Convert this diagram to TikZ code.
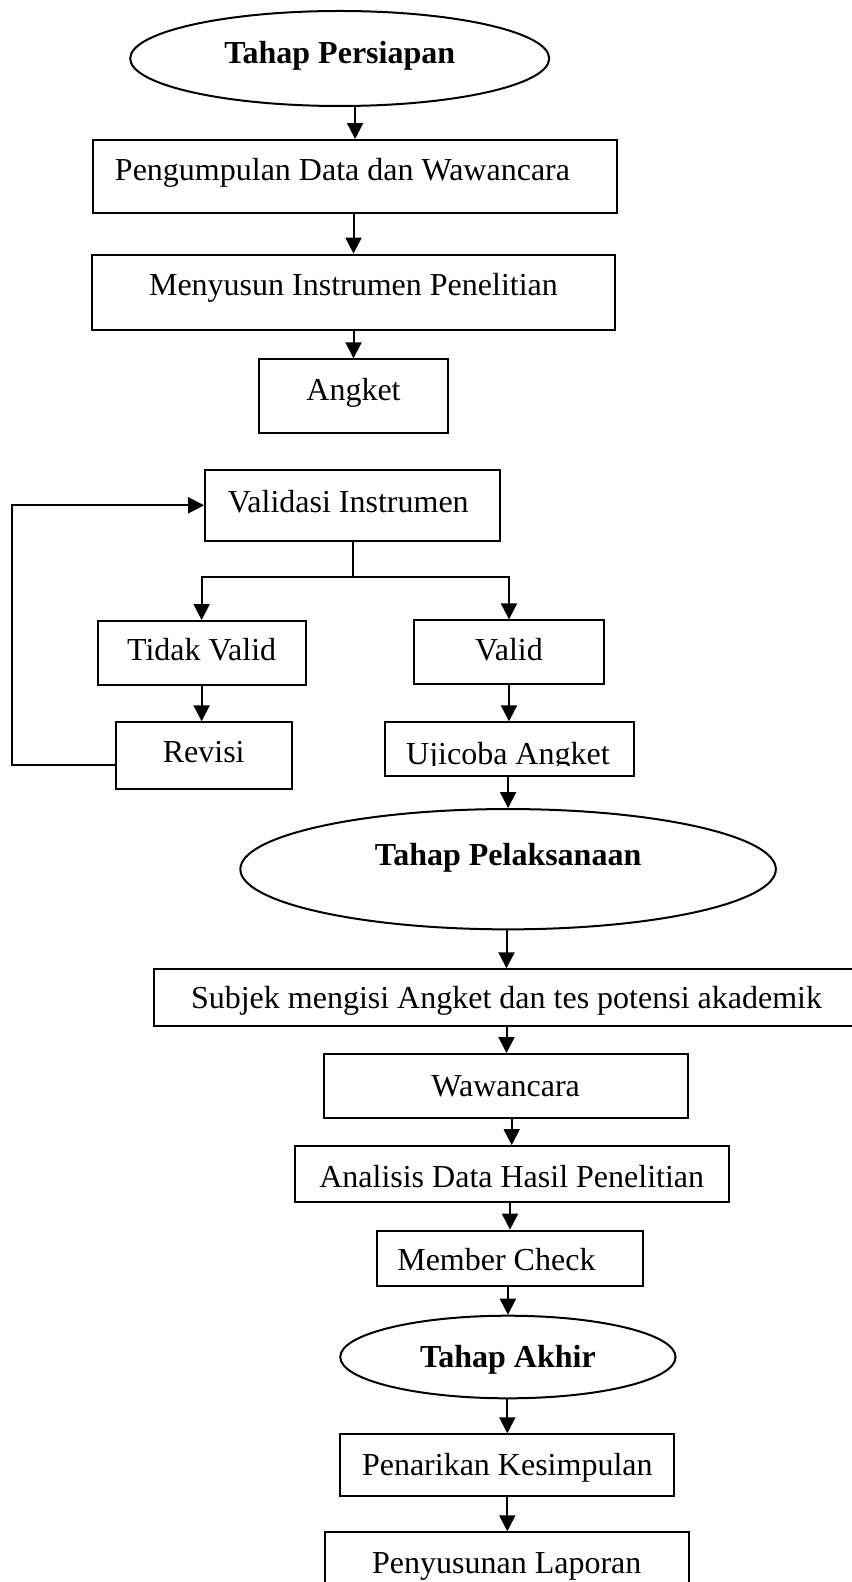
\documentclass[tikz,border=0pt]{standalone}
\usepackage{fontspec}
\setmainfont{Liberation Serif}
\usetikzlibrary{arrows.meta,shapes.geometric,calc}

\newcommand{\Txt}[3]{\makebox[0pt]{\kern#1\raisebox{#2}{#3}\kern-#1}}

\tikzset{
  sz/.style 2 args={minimum width=#1*0.5pt,minimum height=#2*0.5pt},
  box/.style={draw,line width=1pt,inner sep=0pt,text height=10.6pt,text depth=0pt},
  oval/.style={box,ellipse,font=\fontsize{16}{19}\selectfont\bfseries},
  flow/.style={line width=1pt,-{Triangle[length=8pt,width=8pt]}}
}

\begin{document}
\begin{tikzpicture}[x=0.5pt,y=-0.5pt,font=\fontsize{16}{19}\selectfont]
\useasboundingbox (0,0) rectangle (851,1582);

\node[oval,sz={419}{95}] (e1) at (339.7,58.5) {\Txt{0pt}{3pt}{Tahap Persiapan}};
\node[box,sz={523.6}{73.3}] (pd) at (355.1,176.7) {\Txt{-6.3pt}{3.3pt}{Pengumpulan Data dan Wawancara}};
\node[box,sz={522.6}{75.7}] (mi) at (353.5,292.5) {\Txt{0pt}{3.7pt}{Menyusun Instrumen Penelitian}};
\node[box,sz={188.2}{74}] (ak) at (353.5,396.3) {\Txt{0pt}{3.1pt}{Angket}};
\node[box,sz={295.2}{70.7}] (vi) at (352.7,505.3) {\Txt{-2.2pt}{1.8pt}{Validasi Instrumen}};
\node[box,sz={207.8}{64}] (tv) at (201.6,653) {\Txt{0pt}{1.5pt}{Tidak Valid}};
\node[box,sz={189.9}{63.7}] (va) at (509,652.2) {\Txt{0pt}{1pt}{Valid}};
\node[box,sz={176.3}{66.4}] (rv) at (203.7,755.5) {\Txt{0pt}{1.9pt}{Revisi}};
\node[box,sz={248.5}{53.4},path picture={
    \clip ([yshift=5.3pt]path picture bounding box.south west) rectangle (path picture bounding box.north east);
    \node[box,draw=none] at (path picture bounding box.center) {\Txt{-0.8pt}{-2.2pt}{Ujicoba Angket}};}] (uj) at (509.5,749) {};
\node[oval,sz={535.5}{120.3}] (e2) at (508.1,869.2) {\Txt{0pt}{7.1pt}{Tahap Pelaksanaan}};
\node[box,sz={705.8}{56.4}] (sb) at (506.5,997.5) {Subjek mengisi Angket dan tes potensi akademik};
\node[box,sz={363.6}{64.3}] (ww) at (505.7,1086.2) {Wawancara};
\node[box,sz={434.1}{56.3}] (an) at (511.7,1174.2) {\Txt{0pt}{-1.2pt}{Analisis Data Hasil Penelitian}};
\node[box,sz={265.9}{55.3}] (mc) at (510,1258.3) {\Txt{-6.8pt}{-0.8pt}{Member Check}};
\node[oval,sz={335.3}{82.6}] (e3) at (507.9,1357) {Tahap Akhir};
\node[box,sz={334.2}{61.7}] (pk) at (507.3,1465.2) {Penarikan Kesimpulan};
\node[box,sz={364.6}{62}] (pl) at (506.8,1563.3) {Penyusunan Laporan};

\coordinate (fork) at (352.7,576.7);

\draw[flow] (pd.north |- e1.south) -- (pd.north);
\draw[flow] (pd.south -| mi.north) -- (mi.north);
\draw[flow] (mi.south) -- (ak.north);
\draw[line width=1pt] (vi.south) -- (fork);
\draw[flow] (fork) -| (tv.north);
\draw[flow] (fork) -| (va.north);
\draw[flow] (tv.south) -- (tv.south |- rv.north);
\draw[flow] (va.south) -- (va.south |- uj.north);
\draw[flow] ([yshift=-4.75pt]rv.west) -| (12,600) |- (vi.west);
\draw[flow] (uj.south -| e2.north) -- (e2.north);
\draw[flow] (e2.south -| sb.north) -- (sb.north);
\draw[flow] (sb.south) -- (sb.south |- ww.north);
\draw[flow] (an.north |- ww.south) -- (an.north);
\draw[flow] (an.south -| mc.north) -- (mc.north);
\draw[flow] (mc.south -| e3.north) -- (e3.north);
\draw[flow] (e3.south -| pk.north) -- (pk.north);
\draw[flow] (pk.south) -- (pk.south |- pl.north);

\end{tikzpicture}
\end{document}
